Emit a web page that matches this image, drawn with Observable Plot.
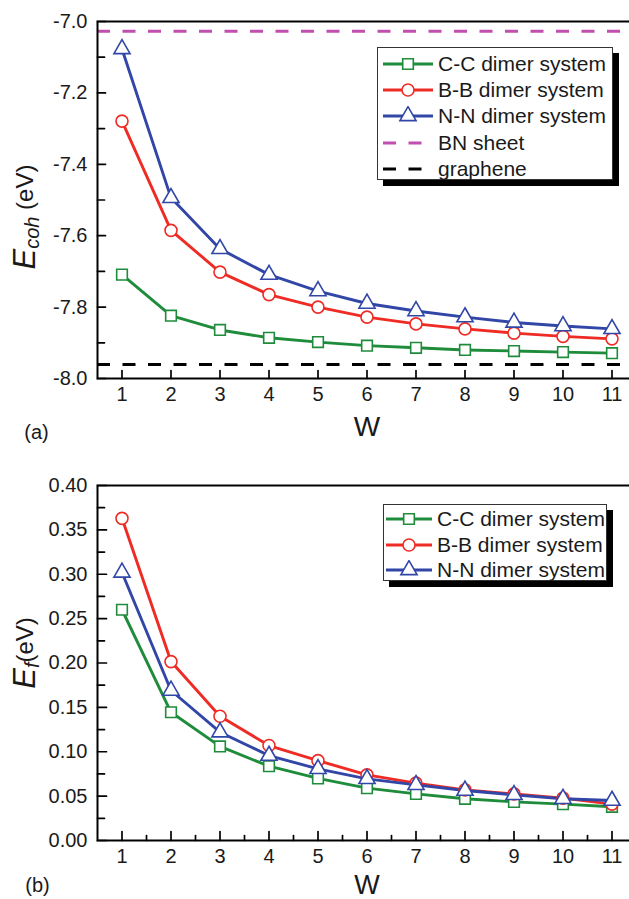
<!DOCTYPE html>
<html>
<head>
<meta charset="utf-8">
<script src="https://cdn.jsdelivr.net/npm/d3@7"></script>
<script src="https://cdn.jsdelivr.net/npm/@observablehq/plot@0.6"></script>
<style>
  html, body { margin: 0; padding: 0; background: #fff; }
  #wrap { position: relative; width: 629px; height: 899px; overflow: hidden; font-family: "Liberation Sans", Arial, sans-serif; }
  .panel { position: absolute; left: 0; width: 660px; }
  .panel svg { max-width: none !important; }
  .legend { position: absolute; background: #fff; border: 1px solid #333; box-shadow: 6px 6px 0 #000; box-sizing: border-box; }
  .row { position: absolute; height: 26px; display: flex; align-items: center; font-size: 21px; color: #1a1a1a; white-space: nowrap; }
  .row svg { margin-right: 5px; }
</style>
</head>
<body>
<div id="wrap"></div>
<script>
// ---- data ----
const W = [1, 2, 3, 4, 5, 6, 7, 8, 9, 10, 11];
const seriesNames = ["C-C dimer system", "B-B dimer system", "N-N dimer system"];
const seriesColors = ["#1e8c3a", "#ee2b24", "#3146a6"];
const seriesSymbols = ["square", "circle", "triangle"];

// (a) cohesive energy (eV)
const ecohCC = [-7.709, -7.824, -7.864, -7.886, -7.898, -7.908, -7.914, -7.920, -7.923, -7.926, -7.929];
const ecohBB = [-7.279, -7.585, -7.702, -7.765, -7.800, -7.828, -7.847, -7.861, -7.873, -7.882, -7.889];
const ecohNN = [-7.077, -7.494, -7.637, -7.709, -7.755, -7.790, -7.811, -7.828, -7.843, -7.853, -7.861];
const ecohBN = -7.027;
const ecohGraphene = -7.961;
const refNames = ["BN sheet", "graphene"];
const refColors = ["#c04fb0", "#000000"];

// (b) formation energy (eV)
const efCC = [0.260, 0.1445, 0.106, 0.0837, 0.070, 0.059, 0.0525, 0.047, 0.0435, 0.041, 0.038];
const efBB = [0.363, 0.2016, 0.140, 0.107, 0.090, 0.074, 0.0646, 0.057, 0.0525, 0.0477, 0.041];
const efNN = [0.302, 0.169, 0.122, 0.0957, 0.0807, 0.0694, 0.0627, 0.0563, 0.0514, 0.047, 0.045];

// ticks
const ecohMajor = [-8.0, -7.8, -7.6, -7.4, -7.2, -7.0];
const ecohMinor = [-7.9, -7.7, -7.5, -7.3, -7.1];
const efMajor = [0.00, 0.05, 0.10, 0.15, 0.20, 0.25, 0.30, 0.35, 0.40];
const efMinor = [0.025, 0.075, 0.125, 0.175, 0.225, 0.275, 0.325, 0.375];
const wMinor = [1.5, 2.5, 3.5, 4.5, 5.5, 6.5, 7.5, 8.5, 9.5, 10.5];

function tidy(arrays) {
  const out = [];
  arrays.forEach((arr, i) => arr.forEach((v, j) => out.push({W: W[j], v, series: seriesNames[i]})));
  return out;
}
const dataA = tidy([ecohCC, ecohBB, ecohNN]);
const dataB = tidy([efCC, efBB, efNN]);

const font = '"Liberation Sans", Arial, sans-serif';
const common = {
  width: 660, marginLeft: 97, marginRight: 24,
  x: {domain: [0.5, 11.5], label: null},
  color: {domain: seriesNames, range: seriesColors},
  symbol: {domain: seriesNames, range: seriesSymbols},
  style: {fontFamily: font, fontSize: "20px", color: "#1a1a1a", background: "transparent", overflow: "visible", maxWidth: "none"}
};

// inward tick shape for Plot.vector
const tickShape = {draw(context, l) { context.moveTo(0, 0); context.lineTo(0, -l); }};
function yTicks(values, len) {
  return Plot.vector(values, {y: d => d, frameAnchor: "left", rotate: 90, length: len, anchor: "start", shape: tickShape, stroke: "#000", strokeWidth: 1.7});
}
function xTicks(values, len) {
  return Plot.vector(values, {x: d => d, frameAnchor: "bottom", rotate: 0, length: len, anchor: "start", shape: tickShape, stroke: "#000", strokeWidth: 1.7});
}

function seriesMarks(data) {
  return [
    Plot.line(data, {x: "W", y: "v", z: "series", stroke: "series", strokeWidth: 2.9}),
    Plot.dot(data, {x: "W", y: "v", symbol: "series", stroke: "series", fill: "white", r: 6, strokeWidth: 1.6})
  ];
}

const plotA = Plot.plot({
  ...common,
  height: 450, marginTop: 21, marginBottom: 72,
  y: {domain: [-8.0, -7.0], label: null},
  marks: [
    Plot.ruleY([ecohBN], {stroke: refColors[0], strokeWidth: 3, strokeDasharray: "13,12.5"}),
    Plot.ruleY([ecohGraphene], {stroke: refColors[1], strokeWidth: 3, strokeDasharray: "13,12.5"}),
    ...seriesMarks(dataA),
    yTicks(ecohMajor, 8),
    yTicks(ecohMinor, 7),
    xTicks(W, 8),
    Plot.axisY(ecohMajor, {tickSize: 0, tickPadding: 10, tickFormat: d => d.toFixed(1), fontSize: 20}),
    Plot.axisX(W, {tickSize: 0, tickPadding: 8, tickFormat: d => String(d), fontSize: 20}),
    Plot.frame({stroke: "#000", strokeWidth: 2}),
    Plot.text(["W"], {frameAnchor: "bottom", dy: 49, lineAnchor: "middle", fontSize: 28, fill: "#1a1a1a"}),
    Plot.text(["(a)"], {frameAnchor: "bottom-left", dx: -61, dy: 54, lineAnchor: "middle", textAnchor: "middle", fontSize: 20, fill: "#1a1a1a"})
  ]
});

const plotB = Plot.plot({
  ...common,
  height: 449, marginTop: 35, marginBottom: 59,
  y: {domain: [0, 0.4], label: null},
  marks: [
    ...seriesMarks(dataB),
    yTicks(efMajor, 9),
    yTicks(efMinor, 7),
    xTicks(W, 9),
    xTicks(wMinor, 5),
    Plot.axisY(efMajor, {tickSize: 0, tickPadding: 10, tickFormat: d => d.toFixed(2), fontSize: 20}),
    Plot.axisX(W, {tickSize: 0, tickPadding: 8, tickFormat: d => String(d), fontSize: 20}),
    Plot.frame({stroke: "#000", strokeWidth: 2}),
    Plot.text(["W"], {frameAnchor: "bottom", dy: 45, lineAnchor: "middle", fontSize: 27, fill: "#1a1a1a"}),
    Plot.text(["(b)"], {frameAnchor: "bottom-left", dx: -60, dy: 45, lineAnchor: "middle", textAnchor: "middle", fontSize: 20, fill: "#1a1a1a"})
  ]
});

// y-axis titles with italic symbol and subscript
function yTitle(svg, cx, cy, sub, gap) {
  const t = d3.select(svg).append("text")
    .attr("transform", `translate(${cx},${cy}) rotate(-90)`)
    .attr("text-anchor", "middle")
    .attr("dominant-baseline", "middle")
    .attr("font-family", font)
    .attr("fill", "#1a1a1a");
  t.append("tspan").attr("font-style", "italic").attr("font-size", 31).text("E");
  t.append("tspan").attr("font-style", "italic").attr("font-size", 20).attr("dy", 7).text(sub);
  t.append("tspan").attr("font-size", 24).attr("dy", -7).text(gap + "(eV)");
}
yTitle(plotA, 27, 217, "coh", " ");
yTitle(plotB, 27, 203, "f", "");

plotA.style.maxWidth = "none";
plotB.style.maxWidth = "none";

const wrap = document.getElementById("wrap");
const pa = document.createElement("div"); pa.className = "panel"; pa.style.top = "0px"; pa.appendChild(plotA);
const pb = document.createElement("div"); pb.className = "panel"; pb.style.top = "450px"; pb.appendChild(plotB);
wrap.appendChild(pa); wrap.appendChild(pb);

// legends
function sampleSvg(color, symbol, dashed, w) {
  const s = d3.create("svg").attr("width", w).attr("height", 20);
  if (dashed) {
    s.append("line").attr("x1", 0).attr("x2", w).attr("y1", 10).attr("y2", 10)
      .attr("stroke", color).attr("stroke-width", 3).attr("stroke-dasharray", "13,12.5");
  } else {
    s.append("line").attr("x1", 0).attr("x2", w).attr("y1", 10).attr("y2", 10)
      .attr("stroke", color).attr("stroke-width", 2.9);
    const sym = {square: d3.symbolSquare, circle: d3.symbolCircle, triangle: d3.symbolTriangle}[symbol];
    s.append("path").attr("d", d3.symbol(sym, Math.PI * 36)())
      .attr("transform", `translate(${w / 2},10)`)
      .attr("fill", "white").attr("stroke", color).attr("stroke-width", 1.6);
  }
  return s.node();
}
function legend(left, top, width, height, items, rowTop, rowStep, pad, sw) {
  const box = document.createElement("div");
  box.className = "legend";
  Object.assign(box.style, {left: left + "px", top: top + "px", width: width + "px", height: height + "px"});
  items.forEach((it, i) => {
    const row = document.createElement("div");
    row.className = "row";
    row.style.top = (rowTop + i * rowStep - 13) + "px";
    row.style.left = pad + "px";
    row.appendChild(sampleSvg(it.color, it.symbol, it.dashed, sw));
    const span = document.createElement("span");
    span.textContent = it.name;
    row.appendChild(span);
    box.appendChild(row);
  });
  wrap.appendChild(box);
}
const itemsA = seriesNames.map((n, i) => ({name: n, color: seriesColors[i], symbol: seriesSymbols[i]}))
  .concat(refNames.map((n, i) => ({name: n, color: refColors[i], dashed: true})));
const itemsB = seriesNames.map((n, i) => ({name: n, color: seriesColors[i], symbol: seriesSymbols[i]}));
legend(377, 47, 236, 133, itemsA, 16, 26.2, 5, 50);
legend(383, 504, 224, 77, itemsB, 14, 25.5, 2, 46);
</script>
</body>
</html>
